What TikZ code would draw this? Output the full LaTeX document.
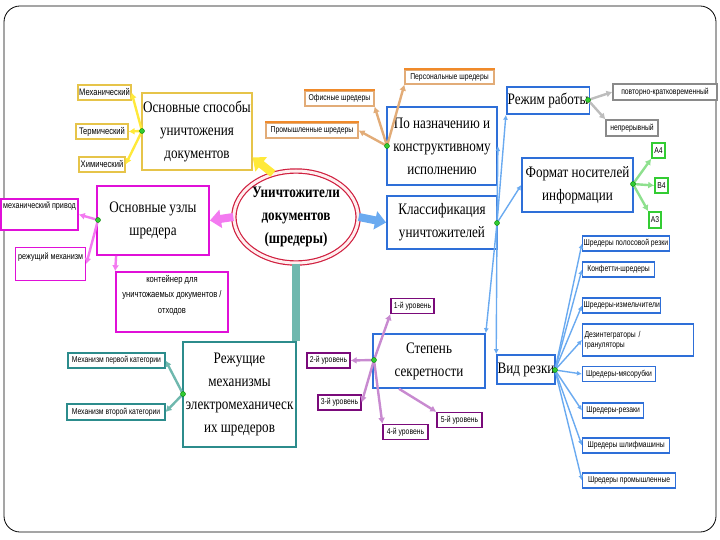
\documentclass[tikz,border=0pt]{standalone}
\usepackage{fontspec}
\setmainfont{Liberation Serif}[FakeStretch=0.82]
\newfontfamily\lab{Liberation Sans}[FakeStretch=0.8]
\usetikzlibrary{arrows.meta,shapes.geometric}
\definecolor{ygold}{HTML}{E6C44A}
\definecolor{ylw}{HTML}{FFE93A}
\definecolor{mag}{HTML}{E010D8}
\definecolor{mgl}{HTML}{F37AF0}
\definecolor{tea}{HTML}{2C8C8C}
\definecolor{tel}{HTML}{6FB8AE}
\definecolor{org}{HTML}{F08A2A}
\definecolor{tan}{HTML}{E2AC78}
\definecolor{blu}{HTML}{2E6FD8}
\definecolor{bll}{HTML}{6AAAF0}
\definecolor{gry}{HTML}{8A8A8A}
\definecolor{grl}{HTML}{BDBDBD}
\definecolor{grn}{HTML}{33CC33}
\definecolor{grl2}{HTML}{8EE08E}
\definecolor{pur}{HTML}{7A0A7A}
\definecolor{pul}{HTML}{C88AD0}
\definecolor{rred}{HTML}{D02040}
\tikzset{
  bigbox/.style={draw, fill=white, line width=1.3pt, align=center,
    font=\fontsize{16}{23}\selectfont, inner sep=1pt},
  smallbox/.style={draw, fill=white, line width=1.2pt, align=center,
    font=\lab\fontsize{8.5}{10}\selectfont, inner sep=1pt},
  hubdot/.style={circle, fill=grn, draw=green!50!black, line width=0.4pt,
    minimum size=5pt, inner sep=0pt},
  conn/.style={draw=#1, line width=2.4pt, -{Latex[length=6pt,width=7pt]}},
  thinconn/.style={draw=#1, line width=1.4pt, -{Latex[length=5pt,width=5pt]}},
  bigarrow/.style={draw=#1, line width=8pt, -{Triangle[length=11pt,width=18pt]}}
}
\begin{document}
\begin{tikzpicture}[x=1pt,y=-1pt]
\useasboundingbox (0,0) rectangle (720,540);
\draw[black, line width=0.8pt, rounded corners=16pt] (4,6) rectangle (716,532);

% ---------------- central node
\node[ellipse, draw=rred, line width=1.2pt, double=pink!25, double distance=3pt,
  minimum width=124pt, minimum height=92pt, inner sep=0pt, align=center,
  font=\bfseries\fontsize{16}{23}\selectfont] (root) at (296,217)
  {Уничтожители\\документов\\(шредеры)};

% ---------------- main boxes
\node[bigbox, draw=ygold, minimum width=110pt, minimum height=77pt] (spos) at (197,131.5)
  {Основные способы\\уничтожения\\документов};
\node[bigbox, draw=mag, line width=1.8pt, minimum width=112pt, minimum height=69pt] (uzly) at (153,220.5)
  {Основные узлы\\шредера};
\node[bigbox, draw=tea, minimum width=113pt, minimum height=105pt] (rez) at (239.5,394.5)
  {Режущие\\механизмы\\электромеханическ\\их шредеров};
\node[bigbox, draw=blu, line width=1.8pt, minimum width=110pt, minimum height=78pt] (nazn) at (442,146)
  {По назначению и\\конструктивному\\исполнению};
\node[bigbox, draw=blu, line width=1.8pt, minimum width=110pt, minimum height=53pt] (klass) at (442,222.5)
  {Классификация\\уничтожителей};
\node[bigbox, draw=blu, line width=1.6pt, minimum width=112pt, minimum height=54pt] (stepen) at (429,361)
  {Степень\\секретности};
\node[bigbox, draw=blu, line width=1.6pt, minimum width=80pt, minimum height=27pt] (rezhim) at (548,100.5)
  {Режим работы};
\node[bigbox, draw=blu, line width=1.6pt, minimum width=111pt, minimum height=54pt] (format) at (577.5,185)
  {Формат носителей\\информации};
\node[bigbox, draw=blu, line width=1.6pt, minimum width=58pt, minimum height=29pt, inner sep=0pt] (vid) at (526,369.5)
  {Вид резки};

% ---------------- big arrows from the centre
\draw[bigarrow=ylw] (root.118) -- (spos.-25);
\draw[bigarrow=mgl] (root.west) -- (uzly.east);
\draw[bigarrow=bll] (root.east) -- (klass.west);
\draw[draw=tel, line width=8pt] (root.south) -- (rez.north -| root.south);

% ---------------- hub points
\coordinate (h1) at (142,131);
\coordinate (h2) at (98,220);
\coordinate (h3) at (183,394);
\coordinate (h4) at (387,146);
\coordinate (h5) at (497,223);
\coordinate (h6) at (588,100);
\coordinate (h7) at (633,184);
\coordinate (h8) at (555,370);
\coordinate (h9) at (374,360);

% ---------------- yellow group
\tikzset{ybox/.style={smallbox, draw=ygold, minimum height=15pt, font=\lab\fontsize{9.5}{11}\selectfont}}
\node[ybox, minimum width=53pt] (mex) at (104.5,92.5) {Механический};
\node[ybox, minimum width=52pt] (term) at (102,131.5) {Термический};
\node[ybox, minimum width=46pt] (him) at (102,164.5) {Химический};
\draw[conn=ylw] (h1) -- (mex.east);
\draw[conn=ylw] (h1) -- (term.east);
\draw[conn=ylw] (h1) -- (him.east);

% ---------------- magenta group
\node[smallbox, draw=mag, line width=1.6pt, minimum width=77pt, minimum height=31pt] (priv) at (39.5,214.5) {};
\node[font=\lab\fontsize{9}{10}\selectfont, anchor=north west, inner sep=0pt] (privt) at (3,202) {механический привод};
\node[smallbox, draw=mag, line width=1.6pt, minimum width=70pt, minimum height=33pt] (rezm) at (50.5,264) {};
\node[font=\lab\fontsize{9}{10}\selectfont, anchor=north west, inner sep=0pt] (rezmt) at (18,253) {режущий механизм};
\node[smallbox, draw=mag, line width=1.6pt, minimum width=112pt, minimum height=60pt] (kont) at (172,302) {};
\node[font=\lab\fontsize{9.5}{15.5}\selectfont, align=center, anchor=north, inner sep=0pt] (kontt) at (172,275)
  {контейнер для\\уничтожаемых документов /\\отходов};
\draw[conn=mgl] (h2) -- (priv.east);
\draw[conn=mgl] (h2) -- (rezm.east);
\draw[conn=mgl] (uzly.south west) ++(20,0) -- (kont.north west);

% ---------------- teal group
\node[smallbox, draw=tea, minimum width=97pt, minimum height=15pt] (mech1) at (116.5,360.5) {Механизм первой категории};
\node[smallbox, draw=tea, minimum width=98pt, minimum height=16pt] (mech2) at (116,412) {Механизм второй категории};
\draw[conn=tel] (h3) -- (mech1.east);
\draw[conn=tel] (h3) -- (mech2.east);

% ---------------- orange group
\node[smallbox, draw=tan, minimum width=89pt, minimum height=14pt] (pers) at (449.5,77) {Персональные шредеры};
\draw[org, line width=2pt] (pers.north west) -- (pers.north east);
\node[smallbox, draw=tan, minimum width=69pt, minimum height=15pt] (ofis) at (339.5,98.5) {Офисные шредеры};
\draw[org, line width=2pt] (ofis.north west) -- (ofis.north east);
\node[smallbox, draw=tan, minimum width=92pt, minimum height=15pt] (prom) at (312,130.5) {Промышленные шредеры};
\draw[org, line width=2pt] (prom.north west) -- (prom.north east);
\draw[conn=tan] (h4) -- (pers.south west);
\draw[conn=tan] (h4) -- (ofis.south east);
\draw[conn=tan] (h4) -- (prom.east);

% ---------------- blue hub
\draw[thinconn=bll] (h5) -- (nazn.east);
\draw[thinconn=bll] (h5) -- (rezhim.south west);
\draw[thinconn=bll] (h5) -- (format.west);
\draw[thinconn=bll] (h5) -- (stepen.north east);
\draw[thinconn=bll] (h5) -- (vid.north west);

% ---------------- grey group
\node[smallbox, draw=gry, minimum width=104pt, minimum height=16pt] (povt) at (665,92) {повторно-кратковременный};
\node[smallbox, draw=gry, minimum width=52pt, minimum height=16pt] (nepr) at (632,128) {непрерывный};
\draw[conn=grl] (h6) -- (povt.west);
\draw[conn=grl] (h6) -- (nepr.north west);

% ---------------- green group
\node[smallbox, draw=grn, line width=1.6pt, minimum width=13pt, minimum height=15pt] (fa4) at (658.5,150.5) {А4};
\node[smallbox, draw=grn, line width=1.6pt, minimum width=13pt, minimum height=15pt] (fb4) at (661.5,185.5) {В4};
\node[smallbox, draw=grn, line width=1.6pt, minimum width=12pt, minimum height=16pt] (fa3) at (655,220) {А3};
\draw[conn=grl2] (h7) -- (fa4.south west);
\draw[conn=grl2] (h7) -- (fb4.west);
\draw[conn=grl2] (h7) -- (fa3.north west);

% ---------------- cutting type list
\tikzset{listbox/.style={smallbox, draw=blu, minimum height=15pt, anchor=west}}
\node[listbox, minimum width=84pt] (l1) at (582,243.5) {Шредеры полосовой резки};
\node[listbox, minimum width=72pt] (l2) at (582,269.5) {Конфетти-шредеры};
\node[listbox, minimum width=76pt] (l3) at (582,305.5) {Шредеры-измельчители};
\node[listbox, minimum width=111pt, minimum height=32pt, text width=107pt, align=left] (l4) at (582,340) {Дезинтеграторы /\\грануляторы};
\node[listbox, minimum width=73pt] (l5) at (582,374) {Шредеры-мясорубки};
\node[listbox, minimum width=61pt] (l6) at (582,410.5) {Шредеры-резаки};
\node[listbox, minimum width=87pt] (l7) at (582,445.5) {Шредеры шлифмашины};
\node[listbox, minimum width=93pt] (l8) at (582,480.5) {Шредеры промышленные};
\foreach \n in {l1,l2,l3,l4,l5,l6,l7,l8}
  \draw[thinconn=bll] (h8) -- (\n.west);

% ---------------- purple group
\tikzset{lvl/.style={smallbox, draw=pur, line width=1.3pt, minimum width=43pt, minimum height=15pt}}
\node[lvl] (u1) at (412.5,306) {1-й уровень};
\node[lvl] (u2) at (328.5,360.5) {2-й уровень};
\node[lvl] (u3) at (339.5,402.5) {3-й уровень};
\node[lvl, minimum width=45pt] (u4) at (405.5,432) {4-й уровень};
\node[lvl, minimum width=45pt] (u5) at (459.5,420) {5-й уровень};
\draw[conn=pul] (h9) -- (u1.south west);
\draw[conn=pul] (h9) -- (u2.east);
\draw[conn=pul] (h9) -- (u3.east);
\draw[conn=pul] (h9) -- (u4.north west);
\draw[conn=pul] (stepen.south) ++(-30,0) -- (u5.north west);

% ---------------- hub dots on top
\foreach \h in {h1,h2,h3,h4,h5,h6,h7,h8,h9}
  \node[hubdot] (\h dot) at (\h) {};
\end{tikzpicture}
\end{document}
